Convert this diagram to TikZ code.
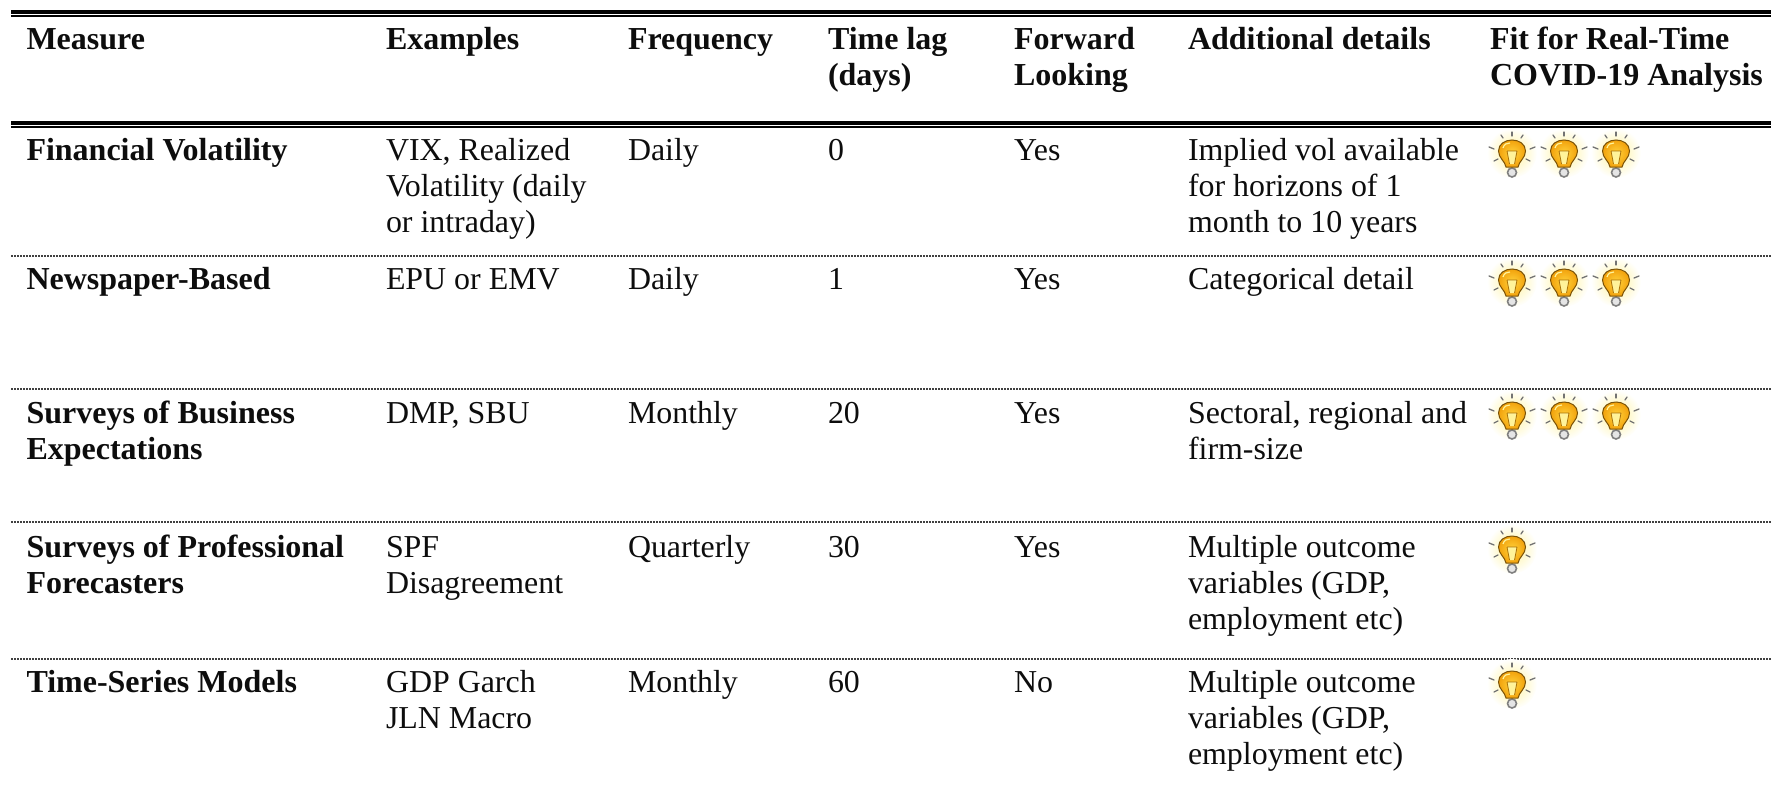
\documentclass[tikz,border=0pt]{standalone}
\usepackage{fontspec}
\setmainfont{Liberation Serif}
\definecolor{bulbmid}{HTML}{FFD23C}
\definecolor{bulbedge}{HTML}{F2A20C}
\definecolor{bulbline}{HTML}{7A5208}
\definecolor{bulbglow}{HTML}{FFF39A}
\tikzset{
  x=1pt,y=-1pt,
  cell/.style={anchor=base west,inner sep=0pt,outer sep=0pt,align=left,font=\fontsize{31.9}{36.2}\selectfont,text=black!95},
  headcell/.style={cell,font=\fontsize{32}{36.2}\selectfont\bfseries},
  thickrule/.style={line width=4.6pt,black},
  thinrule/.style={line width=1.7pt,black},
  dotrule/.style={line width=1.8pt,black!75,dash pattern=on 2pt off 1pt},
  ray/.style={line width=1.3pt,black!55,line cap=round},
  bulbglass/.pic={
    \shade[inner color=bulbglow,outer color=white,draw=none] (0,1) circle[radius=25];
    \foreach \a/\b/\c/\d in {0/-20/0/-16, -11/-17/-9/-14, 11/-17/9/-14, -23/-5/-18/-3, 23/-5/18/-3, -18/9/-14/7, 18/9/14/7}
      \draw[ray] (\a,\b) -- (\c,\d);
    \draw[line width=1.6pt,black!50,fill=black!10] (0,20.5) circle[radius=4.5];
    \shade[inner color=bulbmid,outer color=bulbedge,draw=bulbline,line width=1pt]
      (-6,15) .. controls (-7,9) and (-13.5,6) .. (-13.5,-1)
      .. controls (-13.5,-8) and (-7,-12) .. (0,-12)
      .. controls (7,-12) and (13.5,-8) .. (13.5,-1)
      .. controls (13.5,6) and (7,9) .. (6,15) -- cycle;
    \fill[bulbglow] (-5,-1) -- (5,-1) -- (2.5,12) -- (-2.5,12) -- cycle;
    \draw[line width=0.8pt,bulbedge!70!black] (-5,-1) -- (-2.5,12) (5,-1) -- (2.5,12) (-5,-1) -- (5,-1);
    \draw[line width=1.2pt,bulbglow] (-9,-4) .. controls (-8,-8) and (-5,-9) .. (-2,-9);
  }
}
\begin{document}
\begin{tikzpicture}
\useasboundingbox (0,0) rectangle (1771,789);
% rules
\draw[thickrule] (11,12.2) -- (1771,12.2);
\draw[thinrule] (11,16.2) -- (1771,16.2);
\draw[thickrule] (11,123.2) -- (1771,123.2);
\draw[thinrule] (11,127.2) -- (1771,127.2);
\foreach \yy in {255.7,389,522,659} \draw[dotrule] (11,\yy) -- (1771,\yy);
% header
\node[headcell] (h1) at (26.5,49.5) {Measure};
\node[headcell] (h2) at (386,49.5) {Examples};
\node[headcell] (h3) at (628,49.5) {Frequency};
\node[headcell] (h4) at (828,85.7) {Time lag\\(days)};
\node[headcell] (h5) at (1014,85.7) {Forward\\Looking};
\node[headcell] (h6) at (1188,49.5) {Additional details};
\node[headcell] (h7) at (1490,85.7) {Fit for Real-Time\\COVID-19 Analysis};
% row 1
\node[headcell] (a1) at (26.5,160) {Financial Volatility};
\node[cell] (b1) at (386,232.4) {VIX, Realized\\Volatility (daily\\or intraday)};
\node[cell] (c1) at (628,160) {Daily};
\node[cell] (d1) at (828,160) {0};
\node[cell] (e1) at (1014,160) {Yes};
\node[cell] (f1) at (1188,232.4) {Implied vol available\\for horizons of 1\\month to 10 years};
% row 2
\node[headcell] (a2) at (26.5,289) {Newspaper-Based};
\node[cell] (b2) at (386,289) {EPU or EMV};
\node[cell] (c2) at (628,289) {Daily};
\node[cell] (d2) at (828,289) {1};
\node[cell] (e2) at (1014,289) {Yes};
\node[cell] (f2) at (1188,289) {Categorical detail};
% row 3
\node[headcell] (a3) at (26.5,459.2) {Surveys of Business\\Expectations};
\node[cell] (b3) at (386,423) {DMP, SBU};
\node[cell] (c3) at (628,423) {Monthly};
\node[cell] (d3) at (828,423) {20};
\node[cell] (e3) at (1014,423) {Yes};
\node[cell] (f3) at (1188,459.2) {Sectoral, regional and\\firm-size};
% row 4
\node[headcell] (a4) at (26.5,593.2) {Surveys of Professional\\Forecasters};
\node[cell] (b4) at (386,593.2) {SPF\\Disagreement};
\node[cell] (c4) at (628,557) {Quarterly};
\node[cell] (d4) at (828,557) {30};
\node[cell] (e4) at (1014,557) {Yes};
\node[cell] (f4) at (1188,629.4) {Multiple outcome\\variables (GDP,\\employment etc)};
% row 5
\node[headcell] (a5) at (26.5,692) {Time-Series Models};
\node[cell] (b5) at (386,728.2) {GDP Garch\\JLN Macro};
\node[cell] (c5) at (628,692) {Monthly};
\node[cell] (d5) at (828,692) {60};
\node[cell] (e5) at (1014,692) {No};
\node[cell] (f5) at (1188,764.4) {Multiple outcome\\variables (GDP,\\employment etc)};
% bulbs
\foreach \px in {1512,1564,1616} {
  \pic at (\px,152) {bulbglass};
  \pic at (\px,281) {bulbglass};
  \pic at (\px,414) {bulbglass};
}
\pic at (1512,548) {bulbglass};
\pic at (1512,683) {bulbglass};
\end{tikzpicture}
\end{document}
